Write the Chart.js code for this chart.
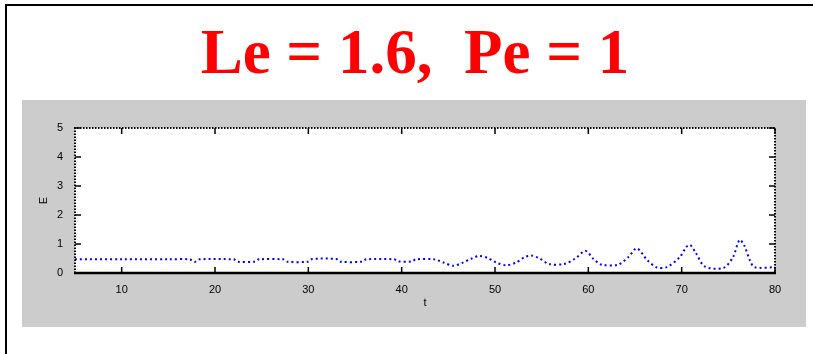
<!DOCTYPE html>
<html>
<head>
<meta charset="utf-8">
<script src="https://cdn.jsdelivr.net/npm/chart.js@4"></script>
<style>
    body { margin: 0; background: #fff; width: 813px; height: 354px; overflow: hidden; position: relative; }
    .marco { position: absolute; left: 5px; top: 4px; width: 810px; height: 360px; border: 2px solid #000; box-sizing: border-box; }
    .titulo { position: absolute; left: 0; top: 17px; width: 830px; text-align: center;
        font-family: "Liberation Serif", "Times New Roman", serif; font-weight: bold; font-size: 63px;
        color: #ff0000; white-space: pre; line-height: 70px; }
    .panel { position: absolute; left: 22px; top: 100px; width: 784px; height: 227px; }
</style>
</head>
<body>
<div class="marco"></div>
<div class="titulo">Le = 1.6,  Pe = 1</div>
<div class="panel"><canvas id="myChart"></canvas></div>
<script>
// datos
const tiempos = [5, 10, 15, 17.3, 17.8, 18.3, 22, 22.4, 24.3, 24.7, 27.3, 27.7, 30, 30.4, 33, 33.4, 35.8, 36.2,
    39.2, 39.6, 41.1, 41.5, 43.5, 44.5, 45.5, 46.5, 47.5, 48.3, 49.2, 50.2, 51.2, 52.2, 53.2, 53.9, 54.8,
    55.8, 57.4, 58.6, 59.7, 60.5, 61.4, 63.2, 64.3, 65.2, 66.3, 67.3, 68.4, 69.8, 70.5, 70.9, 71.5, 72.5,
    74.5, 75.5, 76.2, 76.7, 77.3, 77.8, 80];
const valoresE = [0.47, 0.47, 0.47, 0.47, 0.38, 0.47, 0.47, 0.39, 0.39, 0.47, 0.47, 0.39, 0.39, 0.48, 0.48, 0.39, 0.39, 0.47,
    0.47, 0.40, 0.40, 0.47, 0.47, 0.36, 0.25, 0.35, 0.50, 0.59, 0.52, 0.35, 0.27, 0.35, 0.55, 0.60, 0.50,
    0.31, 0.31, 0.50, 0.76, 0.50, 0.29, 0.29, 0.55, 0.85, 0.45, 0.20, 0.20, 0.55, 0.90, 0.97, 0.70, 0.22,
    0.18, 0.55, 1.14, 0.95, 0.45, 0.20, 0.20];
const ticksX = [10, 20, 30, 40, 50, 60, 70, 80];
const ticksY = [0, 1, 2, 3, 4, 5];

const puntos = tiempos.map((t, i) => ({ x: t, y: valoresE[i] }));

// fondo gris, area blanca, marco estilo matlab con marcas hacia adentro
const marcoMatlab = {
    id: 'marcoMatlab',
    beforeDraw(chart) {
        const c = chart.ctx;
        const a = chart.chartArea;
        c.save();
        c.fillStyle = '#cccccc';
        c.fillRect(0, 0, chart.width, chart.height);
        c.fillStyle = '#ffffff';
        c.fillRect(a.left, a.top, a.right - a.left, a.bottom - a.top);
        c.restore();
    },
    afterDraw(chart) {
        const c = chart.ctx;
        const a = chart.chartArea;
        const sx = chart.scales.x;
        const sy = chart.scales.y;
        c.save();
        c.strokeStyle = '#000';
        c.lineWidth = 2;
        c.setLineDash([1.5, 1.5]);
        c.beginPath();
        c.moveTo(a.left, a.bottom);
        c.lineTo(a.left, a.top);
        c.lineTo(a.right, a.top);
        c.lineTo(a.right, a.bottom);
        c.stroke();
        c.setLineDash([]);
        c.lineWidth = 2.5;
        c.beginPath();
        c.moveTo(a.left - 1, a.bottom);
        c.lineTo(a.right + 1, a.bottom);
        c.stroke();
        c.lineWidth = 1.5;
        c.beginPath();
        ticksX.forEach(v => {
            const px = sx.getPixelForValue(v);
            c.moveTo(px, a.bottom);
            c.lineTo(px, a.bottom - 6);
            c.moveTo(px, a.top);
            c.lineTo(px, a.top + 6);
        });
        ticksY.forEach(v => {
            const py = sy.getPixelForValue(v);
            c.moveTo(a.left, py);
            c.lineTo(a.left + 6, py);
            c.moveTo(a.right, py);
            c.lineTo(a.right - 6, py);
        });
        c.stroke();
        c.restore();
    }
};

const ctx = document.getElementById('myChart').getContext('2d');
const grafica = new Chart(ctx, {
    type: 'line',
    data: {
        datasets: [{
            label: 'E',
            data: puntos,
            borderColor: '#0000ff',
            borderWidth: 2,
            borderDash: [2, 3],
            pointRadius: 0,
            tension: 0.3,
            fill: false
        }]
    },
    options: {
        responsive: true,
        maintainAspectRatio: false,
        animation: false,
        layout: { padding: { top: 28, right: 31, left: 0, bottom: 0 } },
        plugins: { legend: { display: false }, tooltip: { enabled: false } },
        scales: {
            x: {
                type: 'linear',
                min: 5,
                max: 80,
                afterBuildTicks: s => { s.ticks = ticksX.map(v => ({ value: v })); },
                afterFit: s => { s.height = 54; },
                grid: { display: false },
                border: { display: false },
                ticks: { color: '#000', padding: 2, maxRotation: 0, font: { family: 'Arial', size: 11 } },
                title: { display: true, text: 't', color: '#000', padding: { top: 0, bottom: 17 }, font: { family: 'Arial', size: 11 } }
            },
            y: {
                min: 0,
                max: 5,
                afterBuildTicks: s => { s.ticks = ticksY.map(v => ({ value: v })); },
                afterFit: s => { s.width = 53; },
                grid: { display: false },
                border: { display: false },
                ticks: { color: '#000', padding: 4, font: { family: 'Arial', size: 11 } },
                title: { display: true, text: 'E', color: '#000', padding: { top: 15, bottom: 0 }, font: { family: 'Arial', size: 11 } }
            }
        }
    },
    plugins: [marcoMatlab]
});
</script>
</body>
</html>
